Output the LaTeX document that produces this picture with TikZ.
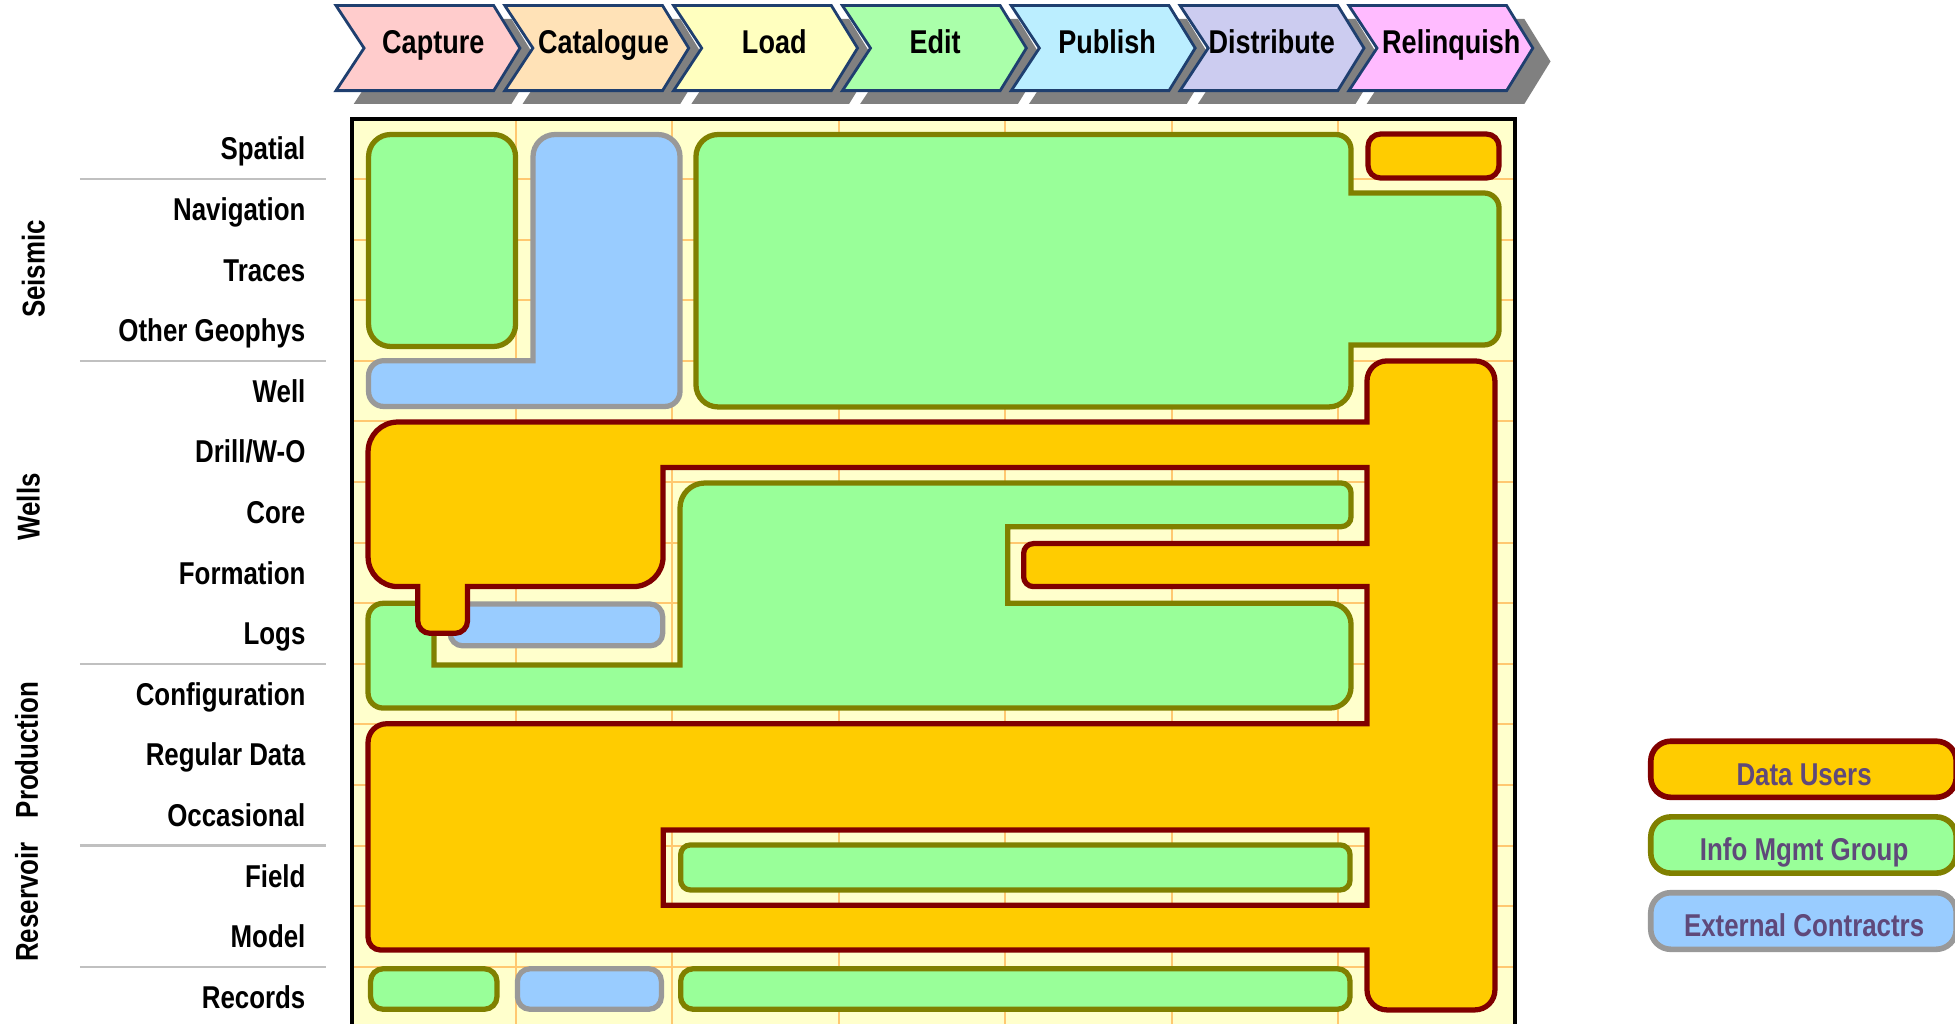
\documentclass[tikz,border=0pt]{standalone}
\usepackage{fontspec}
\setmainfont{Liberation Sans}[FakeStretch=0.82]
%Colours
\definecolor{framefill}{HTML}{FFFFCC}
\definecolor{gridcol}{HTML}{FFC870}
\definecolor{imfill}{HTML}{99FF99}
\definecolor{imline}{HTML}{808000}
\definecolor{extfill}{HTML}{99CCFF}
\definecolor{extline}{HTML}{999999}
\definecolor{userfill}{HTML}{FFCC00}
\definecolor{userline}{HTML}{800000}
\definecolor{stageline}{HTML}{1F3F6F}
\definecolor{shadowcol}{HTML}{808080}
\definecolor{legendcol}{HTML}{5F497A}
\definecolor{sepcol}{HTML}{C0C0C0}
\definecolor{capturecol}{HTML}{FFCCCC}
\definecolor{cataloguecol}{HTML}{FFE2B7}
\definecolor{loadcol}{HTML}{FFFFBF}
\definecolor{editcol}{HTML}{AAFFAA}
\definecolor{publishcol}{HTML}{BBEEFF}
\definecolor{distributecol}{HTML}{CCCCF0}
\definecolor{relinquishcol}{HTML}{FFBBFF}

\begin{document}
\begin{tikzpicture}[x=0.0125cm, y=-0.0125cm,
    imgroup/.style={fill=imfill, draw=imline, line width=1.5pt},
    external/.style={fill=extfill, draw=extline, line width=1.5pt},
    datauser/.style={fill=userfill, draw=userline, line width=1.5pt},
    stagebox/.style={draw=stageline, line width=0.8pt},
    stageshadow/.style={fill=shadowcol},
    stageshape/.style={insert path={-- ++(126.5,0) -- ++(21,34.1) -- ++(-21,34.1) -- ++(-126.5,0) -- ++(22.5,-34.1) -- cycle}},
    stagetext/.style={anchor=base, inner sep=0pt, font=\fontsize{9.4}{11}\selectfont\bfseries},
    rowlabel/.style={anchor=base east, inner sep=0pt, font=\fontsize{9}{10}\selectfont\bfseries},
    grouplabel/.style={rotate=90, inner sep=0pt, font=\fontsize{9}{10}\selectfont\bfseries},
    legendlabel/.style={anchor=base, inner sep=0pt, text=legendcol, font=\fontsize{9}{10}\selectfont\bfseries},
    gridline/.style={draw=gridcol, line width=0.6pt},
    separator/.style={draw=sepcol, line width=0.7pt}]
    %Canvas: one unit is one pixel of the 1568 x 821 picture
    %===========================================================
    \clip (0,0) rectangle (1568,821);

    %Process stages (shadows first, then the chevrons)
    %===========================================================
    \fill[stageshadow] (283.7,15.2) [stageshape];
    \fill[stageshadow] (419.1,15.2) [stageshape];
    \fill[stageshadow] (554.5,15.2) [stageshape];
    \fill[stageshadow] (689.9,15.2) [stageshape];
    \fill[stageshadow] (825.3,15.2) [stageshape];
    \fill[stageshadow] (960.7,15.2) [stageshape];
    \fill[stageshadow] (1096.1,15.2) [stageshape];
    \draw[stagebox, fill=capturecol] (269.5,4.5) [stageshape];
    \draw[stagebox, fill=cataloguecol] (404.9,4.5) [stageshape];
    \draw[stagebox, fill=loadcol] (540.3,4.5) [stageshape];
    \draw[stagebox, fill=editcol] (675.7,4.5) [stageshape];
    \draw[stagebox, fill=publishcol] (811.1,4.5) [stageshape];
    \draw[stagebox, fill=distributecol] (946.5,4.5) [stageshape];
    \draw[stagebox, fill=relinquishcol] (1081.9,4.5) [stageshape];
    \node[stagetext] (capture) at (347.5,43) {Capture};
    \node[stagetext] (catalogue) at (484,43) {Catalogue};
    \node[stagetext] (load) at (621,43) {Load};
    \node[stagetext] (edit) at (750,43) {Edit};
    \node[stagetext] (publish) at (888,43) {Publish};
    \node[stagetext] (distribute) at (1020,43) {Distribute};
    \node[stagetext] (relinquish) at (1164,43) {Relinquish};

    %Row and group labels
    %===========================================================
    \node[rowlabel] (spatial) at (245.5,128.3) {Spatial};
    \node[rowlabel] (navigation) at (245.5,176.9) {Navigation};
    \node[rowlabel] (traces) at (245.5,225.5) {Traces};
    \node[rowlabel] (geophys) at (245.5,274.1) {Other Geophys};
    \node[rowlabel] (well) at (245.5,322.7) {Well};
    \node[rowlabel] (drill) at (245.5,371.3) {Drill/W-O};
    \node[rowlabel] (core) at (245.5,419.9) {Core};
    \node[rowlabel] (formation) at (245.5,468.5) {Formation};
    \node[rowlabel] (logs) at (245.5,517.1) {Logs};
    \node[rowlabel] (config) at (245.5,565.7) {Configuration};
    \node[rowlabel] (regular) at (245.5,614.3) {Regular Data};
    \node[rowlabel] (occasional) at (245.5,662.9) {Occasional};
    \node[rowlabel] (field) at (245.5,711.5) {Field};
    \node[rowlabel] (model) at (245.5,760.1) {Model};
    \node[rowlabel] (records) at (245.5,808.7) {Records};
    \node[grouplabel] (seismic) at (26.7,215.8) {Seismic};
    \node[grouplabel] (wells) at (22.7,406.6) {Wells};
    \node[grouplabel] (production) at (21.4,601.5) {Production};
    \node[grouplabel] (reservoir) at (21.4,723.5) {Reservoir};
    \draw[separator] (64,143.6) -- (261.5,143.6);
    \draw[separator] (64,289.4) -- (261.5,289.4);
    \draw[separator] (64,532.4) -- (261.5,532.4);
    \draw[separator] (64,678.2) -- (261.5,678.2);
    \draw[separator] (64,775.4) -- (261.5,775.4);

    %Matrix frame and grid
    %===========================================================
    \fill[framefill] (282.3,95.7) rectangle (1215,840);
    \draw[gridline] (413.9,95.7) -- (413.9,840) (539,95.7) -- (539,840) (673,95.7) -- (673,840)
        (806,95.7) -- (806,840) (940,95.7) -- (940,840) (1073,95.7) -- (1073,840);
    \draw[gridline] (282.3,143.6) -- (1215,143.6) (282.3,192.2) -- (1215,192.2) (282.3,240.8) -- (1215,240.8)
        (282.3,289.4) -- (1215,289.4) (282.3,338) -- (1215,338) (282.3,386.6) -- (1215,386.6)
        (282.3,435.2) -- (1215,435.2) (282.3,483.8) -- (1215,483.8) (282.3,532.4) -- (1215,532.4)
        (282.3,581) -- (1215,581) (282.3,629.6) -- (1215,629.6) (282.3,678.2) -- (1215,678.2)
        (282.3,726.8) -- (1215,726.8) (282.3,775.4) -- (1215,775.4);

    %Info Mgmt Group and External Contractors areas
    %===========================================================
    \draw[imgroup, rounded corners=6.3pt] (295.6,107.9) rectangle (413.5,277.9);
    \draw[external] (450,326) [rounded corners=4.3pt] -- (295.6,326) -- (295.6,289.3) [sharp corners] -- (427.5,289.3)
        [rounded corners=6.3pt] -- (427.5,107.9) -- (545.4,107.9) [rounded corners=4.3pt] -- (545.4,326) [sharp corners] -- cycle;
    \draw[imgroup] (800,107.9) [rounded corners=4.3pt] -- (1083.6,107.9) [sharp corners] -- (1083.6,154.8)
        [rounded corners=4.3pt] -- (1202.3,154.8) -- (1202.3,276.7) [sharp corners] -- (1083.6,276.7)
        [rounded corners=6.3pt] -- (1083.6,326.4) -- (558.2,326.4) -- (558.2,107.9) [sharp corners] -- cycle;
    \draw[imgroup] (295.2,520) [rounded corners=4.3pt] -- (295.2,483.9) [sharp corners] -- (348,483.9) -- (348,533.4)
        -- (545.4,533.4) [rounded corners=7.1pt] -- (545.4,387.4) [rounded corners=2.8pt] -- (1083.6,387.4) -- (1083.6,422.4)
        [sharp corners] -- (808.2,422.4) -- (808.2,483.9) [rounded corners=6pt] -- (1083.6,483.9) -- (1083.6,567.9)
        [rounded corners=4.3pt] -- (295.2,567.9) [sharp corners] -- cycle;
    \draw[external, rounded corners=3.6pt] (361,484.5) rectangle (531.5,518);
    \draw[imgroup, rounded corners=2.8pt] (545.9,677.7) rectangle (1082.8,713.8);
    \draw[imgroup, rounded corners=3.6pt] (297.2,777) rectangle (398.6,809.5);
    \draw[external, rounded corners=3.6pt] (415,777) rectangle (530.5,809.5);
    \draw[imgroup, rounded corners=3.6pt] (545.9,777) rectangle (1082.8,809.5);

    %Data Users area (with the hole round the Field row)
    %===========================================================
    \draw[datauser, rounded corners=3.6pt] (1097.2,107.5) rectangle (1202.3,142.8);
    \draw[datauser, even odd rule] (700,338.5) [sharp corners] -- (1096.4,338.5) [rounded corners=5.7pt] -- (1096.4,289.5)
        -- (1199,289.5) -- (1199,810) -- (1096.4,810) [sharp corners] -- (1096.4,762) [rounded corners=3.6pt] -- (295.2,762)
        [rounded corners=5.3pt] -- (295.2,580.5) [sharp corners] -- (1096.4,580.5) -- (1096.4,470.5)
        [rounded corners=2.8pt] -- (821,470.5) -- (821,436) [sharp corners] -- (1096.4,436) -- (1096.4,375) -- (531.8,375)
        [rounded corners=8.5pt] -- (531.8,470.5) [sharp corners] -- (375,470.5) [rounded corners=3.6pt] -- (375,508) -- (335,508)
        [sharp corners] -- (335,470.5) [rounded corners=8.5pt] -- (295.2,470.5) -- (295.2,338.5) [sharp corners] -- cycle
        (532,665.7) rectangle (1096.4,726);
    \draw[line width=1.14pt] (282.3,95.7) rectangle (1215,840); %Frame border

    %Legend
    %===========================================================
    \draw[datauser, line width=1.6pt, rounded corners=5.7pt] (1324,594.5) rectangle (1569,639.5);
    \draw[imgroup, line width=1.6pt, rounded corners=5.7pt] (1324,655.2) rectangle (1569,700.3);
    \draw[external, line width=1.6pt, rounded corners=5.7pt] (1324,716) rectangle (1569,761.4);
    \node[legendlabel] (users) at (1447,630) {Data Users};
    \node[legendlabel] (imgroup) at (1447,690.5) {Info Mgmt Group};
    \node[legendlabel] (contractors) at (1447,751.5) {External Contractrs};
\end{tikzpicture}
\end{document}
